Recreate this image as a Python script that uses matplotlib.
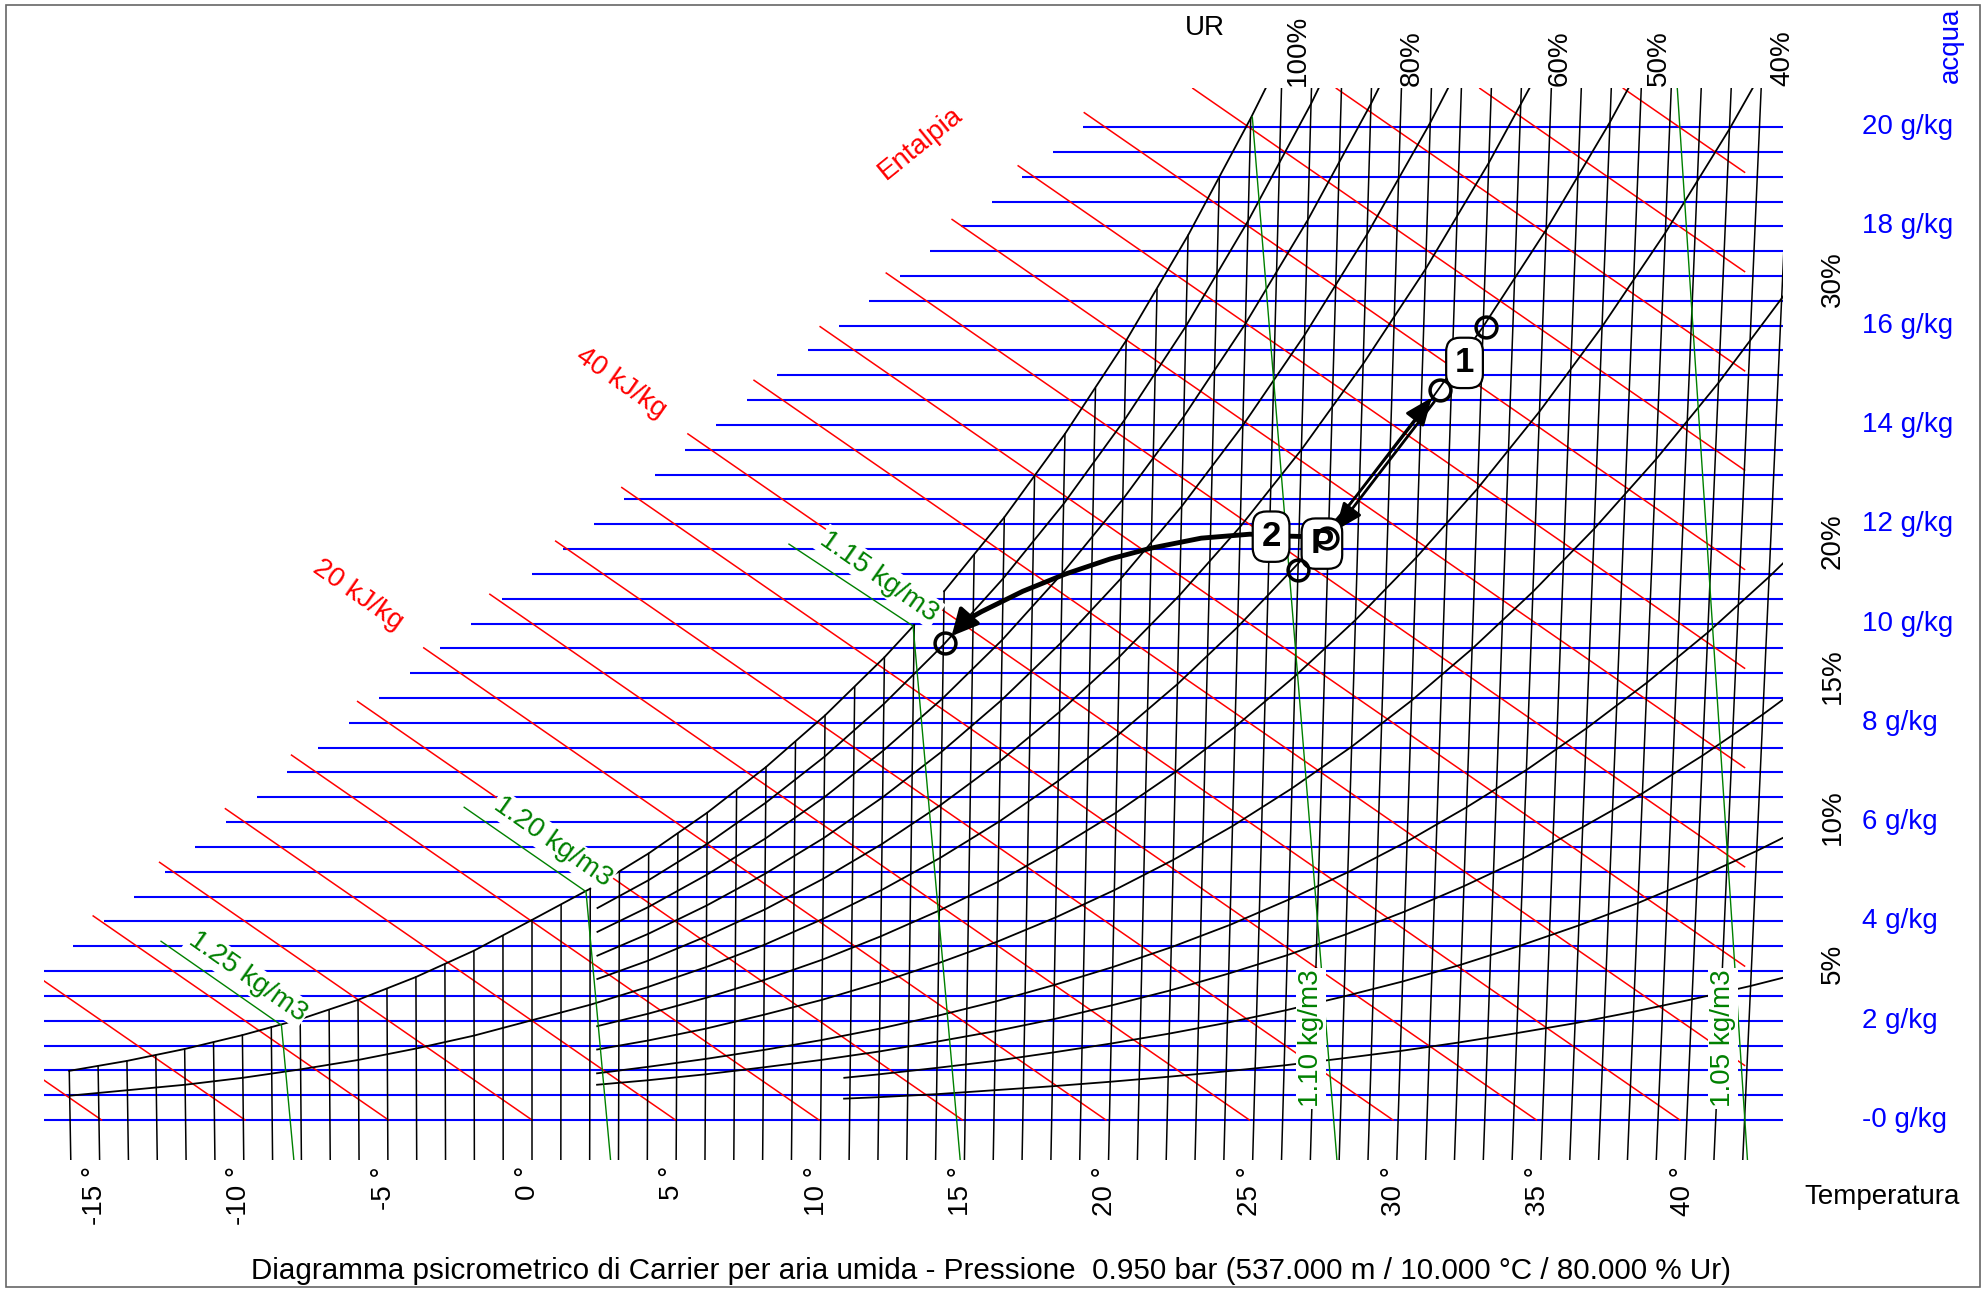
import numpy as np
import matplotlib.pyplot as plt
from matplotlib import font_manager
from matplotlib.patches import Rectangle

# narrow Arial-like face if there is one, plain Liberation Sans otherwise
_names = {f.name for f in font_manager.fontManager.ttflist}
if 'Liberation Sans Narrow' in _names:
    FAM, FS, FS_TITLE = 'Liberation Sans Narrow', 24, 26
else:
    FAM, FS, FS_TITLE = 'Liberation Sans', 20, 21.3
plt.rcParams['font.family'] = [FAM, 'DejaVu Sans']

# chart coordinates: x = T*(1 + K*W) (dry bulb lines lean a little), y = W in g/kg
K = 0.001849
X_LEFT, X_RIGHT = -16.9, 43.34
W_BOT, W_TOP = -0.8, 20.78


def cx(t, w):
    return np.asarray(t, float) * (1 + K * np.asarray(w, float))


# dry bulb lines (T in degC) and where they stop on the saturation curve
temps = list(range(-16, 43))
t_top = [0.99, 1.08, 1.19, 1.30, 1.43, 1.56, 1.71, 1.87, 2.03, 2.22, 2.42, 2.64,
         2.88, 3.13, 3.41, 3.71, 4.03, 4.33, 4.66, 5.00, 5.37, 5.77, 6.19, 6.63,
         7.11, 7.61, 8.15, 8.72, 9.32, 9.97, 10.65, 11.37, 12.14, 12.95, 13.82,
         14.73, 15.70, 16.73, 17.82, 18.96, 20.18] + [W_TOP] * 18
temp_ticks = [-15, -10, -5, 0, 5, 10, 15, 20, 25, 30, 35, 40]

# humidity ratio lines (g/kg) and their left ends
w_levels = np.arange(0, 20.01, 0.5)
w_left = [-16.9, -16.9, -16.9, -16.9, -16.9, -16.9, -16.9, -15.90, -14.84, -13.78,
          -12.72, -11.66, -10.60, -9.54, -8.48, -7.42, -6.35, -5.29, -4.23, -3.17,
          -2.11, -1.05, 0.01, 1.07, 2.13, 3.19, 4.25, 5.31, 6.37, 7.43, 8.49, 9.56,
          10.62, 11.68, 12.74, 13.80, 14.86, 15.92, 16.98, 18.04, 19.10]
w_ticks = [20, 18, 16, 14, 12, 10, 8, 6, 4, 2, 0]

# enthalpy lines (kJ/kg): start / end in chart coordinates
h_vals = [-15, -10, -5, 0, 5, 10, 15, 20, 25, 30, 35, 40, 45, 50, 55, 60, 65, 70, 75, 80, 85, 90]
h_x0 = [-16.9, -16.9, -15.20, -12.90, -10.62, -8.33, -6.04, -3.75, -1.46, 0.82, 3.11,
        5.40, 7.69, 9.98, 12.27, 14.55, 16.84, 19.13, 22.89, 27.86, 32.83, 37.80]
h_w0 = [0.80, 2.80, 4.11, 5.19, 6.27, 7.35, 8.43, 9.51, 10.59, 11.66, 12.74, 13.82,
        14.90, 15.98, 17.06, 18.14, 19.22, 20.29, 20.78, 20.78, 20.78, 20.78]
h_x1 = [-14.91, -9.94, -4.97, 0.0, 4.97, 9.94, 14.91, 19.88, 24.85, 29.82, 34.79,
        39.76, 42, 42, 42, 42, 42, 42, 42, 42, 42, 42]
h_w1 = [0, 0, 0, 0, 0, 0, 0, 0, 0, 0, 0, 0,
        1.10, 3.10, 5.10, 7.10, 9.10, 11.09, 13.09, 15.09, 17.09, 19.09]

# relative humidity curves, (T, W) pairs
t_ice = [-16, -14, -12, -10, -8, -6, -4, -2, 0, 2]
w100_a = [0.99, 1.19, 1.43, 1.71, 2.03, 2.42, 2.88, 3.41, 4.03, 4.66]
t100_b = [2.25, 4, 6, 8, 10, 12, 13]
w100_b = [4.74, 5.37, 6.19, 7.11, 8.15, 9.32, 9.97]
t100_c = [14, 16, 18, 20, 22, 24, 25]
w100_c = [10.65, 12.14, 13.82, 15.70, 17.82, 20.18, 21.46]
t_mid = [2.25, 4, 6, 8, 10, 12, 14, 16, 18, 20, 22, 24, 26, 28, 30, 32, 34, 36, 38, 40, 42, 44]
w90 = [4.27, 4.83, 5.56, 6.39, 7.32, 8.38, 9.57, 10.91, 12.41, 14.10, 15.99, 18.11, 20.47, 23.12]
w80 = [3.79, 4.29, 4.94, 5.67, 6.50, 7.44, 8.49, 9.67, 11.01, 12.50, 14.17, 16.04, 18.13, 20.47, 23.07]
w70 = [3.31, 3.75, 4.32, 4.96, 5.68, 6.50, 7.42, 8.45, 9.61, 10.91, 12.36, 13.99, 15.81,
       17.84, 20.09, 22.60]
w60 = [2.84, 3.21, 3.70, 4.24, 4.86, 5.56, 6.35, 7.23, 8.22, 9.33, 10.57, 11.95, 13.50,
       15.23, 17.14, 19.28, 21.65]
t50 = [-16, -14, -12, -10, -8, -6, -4, -2, 0, 2, 4, 6, 8, 10, 12, 14, 16, 18, 20, 22,
       24, 26, 28, 30, 32, 34, 36, 38]
w50 = [0.49, 0.60, 0.71, 0.85, 1.02, 1.21, 1.44, 1.70, 2.01, 2.32, 2.68, 3.08, 3.53, 4.05,
       4.63, 5.28, 6.01, 6.83, 7.75, 8.78, 9.93, 11.21, 12.64, 14.22, 15.98, 17.93, 20.10, 22.50]
w40 = [1.89, 2.14, 2.46, 2.82, 3.23, 3.70, 4.22, 4.80, 5.46, 6.19, 7.01, 7.92, 8.94, 10.07,
       11.33, 12.72, 14.27, 15.98, 17.87, 19.96, 22.27]
w30 = [1.42, 1.60, 1.84, 2.12, 2.42, 2.77, 3.16, 3.59, 4.08, 4.63, 5.24, 5.92, 6.68, 7.52,
       8.45, 9.49, 10.64, 11.91, 13.31, 14.85, 16.55, 18.41]
w20 = [0.94, 1.07, 1.23, 1.41, 1.61, 1.84, 2.10, 2.39, 2.72, 3.08, 3.48, 3.93, 4.44, 4.99,
       5.61, 6.30, 7.05, 7.89, 8.81, 9.82, 10.94, 12.15]
w15 = [0.71, 0.80, 0.92, 1.06, 1.21, 1.38, 1.58, 1.79, 2.03, 2.31, 2.61, 2.95, 3.32, 3.74,
       4.20, 4.71, 5.27, 5.90, 6.58, 7.34, 8.17, 9.07]
t_low = [10.8, 12, 14, 16, 18, 20, 22, 24, 26, 28, 30, 32, 34, 36, 38, 40, 42, 44]
w10 = [0.85, 0.92, 1.05, 1.19, 1.36, 1.54, 1.74, 1.96, 2.21, 2.49, 2.79, 3.13, 3.51, 3.92,
       4.37, 4.87, 5.42, 6.02]
w5 = [0.43, 0.46, 0.52, 0.60, 0.68, 0.77, 0.87, 0.98, 1.10, 1.24, 1.39, 1.56, 1.75, 1.95,
      2.18, 2.43, 2.70, 3.00]

rh_curves = [(t_ice, w100_a), (t100_b, w100_b), (t100_c, w100_c),
             (t_mid[:len(w90)], w90), (t_mid[:len(w80)], w80), (t_mid[:len(w70)], w70),
             (t_mid[:len(w60)], w60), (t50, w50), (t_mid[:len(w40)], w40),
             (t_mid, w30), (t_mid, w20), (t_mid, w15), (t_low, w10), (t_low, w5)]

rh_top_labels = ['100%', '80%', '60%', '50%', '40%']
rh_top_x = [26.53, 30.48, 35.61, 39.04, 43.30]
rh_side_labels = ['30%', '20%', '15%', '10%', '5%']
rh_side_w = [16.94, 11.66, 8.95, 6.10, 3.14]

# density lines (kg/m3): polyline in chart coordinates, label position
rho_labels = ['1.25 kg/m3', '1.20 kg/m3', '1.15 kg/m3', '1.10 kg/m3', '1.05 kg/m3']
rho_x = [[-8.25, -8.68, -12.85], [2.72, 1.87, -2.35], [14.83, 13.2, 8.9],
         [27.88, 24.95], [42.1, 39.67]]
rho_w = [[-0.8, 1.91, 3.60], [-0.8, 4.60, 6.30], [-0.8, 9.95, 11.6],
         [-0.8, 20.2], [-0.8, 20.78]]
rho_lab_x = [-9.86, 0.71, 12.03, 26.98, 41.24]
rho_lab_w = [2.89, 5.61, 10.95, 1.64, 1.64]
rho_lab_rot = [-35, -35, -35, 90, 90]

# process drawn on the chart
pt_x = [33.04, 31.46, 27.53, 26.54, 14.31]
pt_w = [15.97, 14.70, 11.72, 11.08, 9.60]
box_txt = ['1', '2', 'P']
box_x = [32.3, 25.6, 27.36]
box_w = [15.25, 11.75, 11.61]
path_x = [27.53, 25.6, 24.87, 23.18, 21.45, 20.02, 18.44, 17.0, 15.57, 14.99]
path_w = [11.74, 11.77, 11.80, 11.72, 11.52, 11.30, 10.99, 10.65, 10.24, 10.05]

BLUE, RED, GREEN = '#0000ff', '#ff0000', '#008000'

fig = plt.figure(figsize=(19.86, 12.90), dpi=100)
ax = fig.add_axes([0.02221, 0.1010, 0.8757, 0.8305])
ax.set_xlim(X_LEFT, X_RIGHT)
ax.set_ylim(W_BOT, W_TOP)
ax.axis('off')

ax.hlines(w_levels, w_left, X_RIGHT, colors=BLUE, lw=1.5, zorder=1)

for x0, w0, x1, w1 in zip(h_x0, h_w0, h_x1, h_w1):
    ax.plot([x0, x1], [w0, w1], color=RED, lw=1.1, zorder=2)

for t, top in zip(temps, t_top):
    ax.plot(cx([t, t], [W_BOT, top]), [W_BOT, top], color='black', lw=1.1, zorder=3)

for tt, ww in rh_curves:
    ax.plot(cx(tt, ww), ww, color='black', lw=1.3, zorder=4)

for xs, ws in zip(rho_x, rho_w):
    ax.plot(xs, ws, color=GREEN, lw=1.0, zorder=5)
for lab, x, w, r in zip(rho_labels, rho_lab_x, rho_lab_w, rho_lab_rot):
    ax.text(x, w, lab, color=GREEN, fontsize=FS, rotation=r, rotation_mode='anchor',
            ha='center', va='center', zorder=6,
            bbox=dict(fc='white', ec='none', pad=1.5))

# enthalpy labels
ax.text(-6.03, 10.57, '20 kJ/kg', color=RED, fontsize=FS, rotation=-35,
        rotation_mode='anchor', ha='center', va='center')
ax.text(3.08, 14.84, '40 kJ/kg', color=RED, fontsize=FS, rotation=-35,
        rotation_mode='anchor', ha='center', va='center')
ax.text(13.47, 19.68, 'Entalpia', color=RED, fontsize=FS, rotation=39,
        rotation_mode='anchor', ha='center', va='center')

# axis texts
for t in temp_ticks:
    ax.text(t - 0.14, -0.93, f'{t} °', rotation=90, ha='center', va='top', fontsize=FS)
ax.text(46.76, -1.55, 'Temperatura', ha='center', va='center', fontsize=FS)
for w in w_ticks:
    lab = f'{w} g/kg' if w else '-0 g/kg'
    ax.text(46.07, w, lab, color=BLUE, ha='left', va='center', fontsize=FS)
ax.text(49.15, 21.65, 'acqua', color=BLUE, rotation=90, ha='center', va='center', fontsize=FS)
ax.text(23.31, 22.0, 'UR', ha='center', va='center', fontsize=FS)
for lab, x in zip(rh_top_labels, rh_top_x):
    ax.text(x, 20.83, lab, rotation=90, ha='center', va='bottom', fontsize=FS)
for lab, w in zip(rh_side_labels, rh_side_w):
    ax.text(45.06, w, lab, rotation=90, ha='center', va='center', fontsize=FS)
ax.text(15.9, -3.05,
        'Diagramma psicrometrico di Carrier per aria umida - Pressione  0.950 bar '
        '(537.000 m / 10.000 °C / 80.000 % Ur)',
        ha='center', va='center', fontsize=FS_TITLE)

# process: 1 <-> P, then P -> 2 -> point
ax.plot(path_x, path_w, color='black', lw=3.5, zorder=7, solid_capstyle='round')
ax.annotate('', xy=(pt_x[4], pt_w[4]), xytext=(path_x[-1], path_w[-1]),
            arrowprops=dict(arrowstyle='-|>,head_length=1.6,head_width=0.8', color='black',
                            lw=3, shrinkA=0, shrinkB=7), zorder=7)
ax.annotate('', xy=(pt_x[1] - 0.06, pt_w[1] + 0.03), xytext=(pt_x[2] - 0.06, pt_w[2] + 0.03),
            arrowprops=dict(arrowstyle='-|>,head_length=1.7,head_width=0.7', color='black',
                            lw=2.0, shrinkA=9, shrinkB=8), zorder=7)
ax.annotate('', xy=(pt_x[2] + 0.06, pt_w[2] - 0.03), xytext=(pt_x[1] + 0.06, pt_w[1] - 0.03),
            arrowprops=dict(arrowstyle='-|>,head_length=1.7,head_width=0.7', color='black',
                            lw=2.0, shrinkA=9, shrinkB=8), zorder=7)
for t, x, w in zip(box_txt, box_x, box_w):
    ax.text(x, w, t, fontsize=25, fontweight='bold', ha='center', va='center', zorder=8,
            bbox=dict(boxstyle='round,pad=0.25,rounding_size=0.4', fc='white',
                      ec='black', lw=1.6))
ax.plot(pt_x, pt_w, 'o', ms=15, mfc='none', mec='black', mew=2.5, zorder=9)

fig.add_artist(Rectangle((6 / 1986, 3 / 1290), 1974 / 1986, 1282 / 1290,
                         transform=fig.transFigure, fill=False, ec='#666666', lw=1.2))

fig.savefig('out.png', dpi=100, facecolor='white')
